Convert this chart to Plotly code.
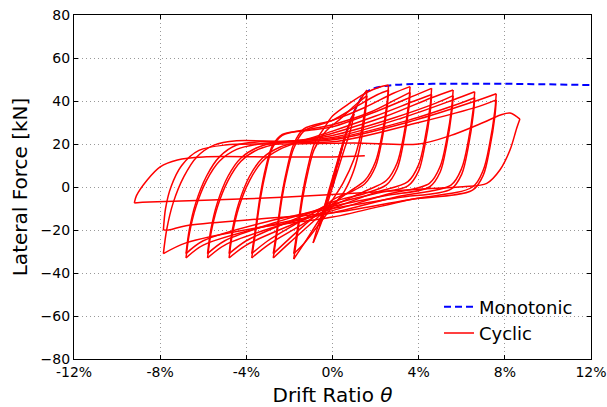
import plotly.graph_objects as go

# ---------------- data ----------------
mono_drift = [0.0, 0.35, 0.8, 1.2, 1.5, 1.9, 2.4, 3.0, 5.0, 8.0, 12.0]
mono_force = [0.0, 15.0, 30.0, 39.0, 43.5, 45.8, 46.9, 47.6, 48.0, 48.0, 47.4]

cyc_drift = [
    0.0, 0.3, 0.6,
    0.45, 0.2, -0.1, -0.4, -0.6,
    -0.45, -0.15, 0.2, 0.6, 1.0,
    0.85, 0.5, 0.0, -0.5, -0.9,
    -0.7, -0.4, -0.05, 0.35, 0.8, 1.2, 1.6,
    1.52, 1.3, 1.0, 0.5, 0.0, -0.6, -1.3, -1.8,
    -1.62, -1.39, -1.15, -0.85, -0.3, 0.4, 1.1, 1.6,
    1.52, 1.3, 1.0, 0.55, 0.0, -0.6, -1.3, -1.8,
    -1.62, -1.39, -1.15, -0.85, -0.35, 0.0, 0.8, 1.6, 2.2, 2.6,
    2.54, 2.3, 2.0, 1.5, 0.8, 0.0, -1.0, -2.0, -2.75,
    -2.57, -2.34, -2.1, -1.8, -1.33, 0.0, 1.2, 2.1, 2.6,
    2.54, 2.3, 2.0, 1.5, 0.8, 0.0, -1.0, -2.0, -2.75,
    -2.57, -2.34, -2.1, -1.8, -1.33, 0.0, 1.5, 2.8, 3.6,
    3.54, 3.3, 3.0, 2.5, 1.5, 0.0, -1.5, -3.0, -3.75,
    -3.57, -3.34, -3.1, -2.8, -2.33, -1.0, 0.0, 1.8, 3.0, 3.6,
    3.54, 3.3, 3.0, 2.5, 1.5, 0.0, -1.5, -3.0, -3.75,
    -3.57, -3.34, -3.1, -2.8, -2.33, -1.0, 0.0, 2.0, 3.8, 4.6,
    4.54, 4.3, 4.0, 3.5, 2.0, 0.0, -2.0, -4.0, -4.8,
    -4.65, -4.35, -3.85, -3.25, -2.45, -1.4, 0.0, 2.0, 3.8, 4.6,
    4.54, 4.3, 4.0, 3.5, 2.0, 0.0, -2.0, -4.0, -4.8,
    -4.65, -4.35, -3.85, -3.25, -2.45, -1.4, 0.0, 2.5, 4.6, 5.6,
    5.54, 5.3, 5.0, 4.5, 2.5, 0.0, -2.5, -5.0, -5.8,
    -5.65, -5.35, -4.85, -4.25, -3.45, -2.4, 0.0, 2.8, 4.8, 5.6,
    5.54, 5.3, 5.0, 4.5, 2.5, 0.0, -2.5, -5.0, -5.8,
    -5.65, -5.35, -4.85, -4.25, -3.45, -2.4, 0.0, 3.2, 5.6, 6.6,
    6.54, 6.3, 6.0, 5.5, 3.0, 0.0, -3.0, -6.0, -6.8,
    -6.65, -6.35, -5.85, -5.25, -4.45, -3.4, 0.0, 3.5, 5.8, 6.6,
    6.54, 6.3, 6.0, 5.5, 3.0, 0.0, -3.0, -6.0, -6.8,
    -6.65, -6.35, -5.85, -5.25, -4.45, -3.4, 0.0, 3.8, 6.5, 7.6,
    7.54, 7.3, 7.0, 6.5, 3.5, 0.0, -3.5, -6.8, -7.85,
    -7.7, -7.4, -6.9, -6.3, -5.5, -4.45, 0.0, 4.0, 6.8, 7.6,
    7.54, 7.3, 7.0, 6.5, 3.5, 0.0, -3.5, -6.8, -7.6, -7.85,
    -7.75, -7.5, -7.0, -6.2, -5.0, -2.0, 1.0, 4.0, 5.5, 7.0, 7.8, 8.24, 8.7,
    8.55, 8.24, 7.77, 7.16, 6.06, 4.0, 0.0, -4.0, -8.5, -9.2,
    -9.1, -8.6, -8.0, -7.2, -6.0, -3.0, 0.0, 1.5,
]
cyc_force = [
    0.0, 14.0, 24.0,
    18.0, 9.0, -1.0, -12.0, -18.0,
    -12.0, -1.0, 11.0, 24.0, 34.0,
    27.0, 16.0, 0.0, -16.0, -26.0,
    -19.0, -10.0, 1.0, 15.0, 30.0, 39.0, 45.1,
    37.0, 24.0, 13.0, 2.0, -6.0, -15.0, -26.0, -33.5,
    -21.5, -5.5, 6.5, 17.5, 26.0, 32.0, 38.5, 42.5,
    34.0, 20.0, 8.0, -2.0, -9.0, -17.0, -26.0, -31.0,
    -19.0, -3.0, 9.0, 20.0, 28.0, 33.0, 39.0, 44.0, 46.5, 47.4,
    39.8, 24.4, 11.9, 3.0, -2.0, -8.0, -17.0, -26.0, -33.0,
    -21.0, -5.0, 7.0, 18.0, 26.0, 31.0, 38.0, 43.0, 45.0,
    37.4, 22.0, 9.5, 1.5, -2.5, -6.0, -15.0, -24.0, -31.0,
    -19.0, -3.0, 9.0, 20.0, 27.0, 31.0, 37.0, 43.5, 46.7,
    39.1, 23.7, 11.2, 3.0, -2.0, -9.0, -18.0, -27.0, -33.0,
    -21.0, -5.0, 7.0, 18.0, 24.0, 27.0, 29.0, 35.0, 41.0, 44.0,
    36.4, 21.0, 8.5, 1.0, -3.0, -7.0, -16.0, -25.0, -31.0,
    -19.0, -3.0, 9.0, 19.0, 24.5, 26.5, 28.0, 35.0, 42.5, 45.9,
    38.3, 22.9, 10.4, 2.5, -2.5, -10.0, -18.0, -27.0, -33.0,
    -22.0, -9.5, 3.0, 12.0, 17.5, 21.5, 26.0, 33.0, 40.0, 43.0,
    35.4, 20.0, 7.5, 0.5, -3.0, -8.0, -16.0, -25.0, -31.0,
    -20.0, -7.5, 5.0, 13.5, 18.5, 21.5, 25.0, 33.0, 41.5, 45.1,
    37.5, 22.1, 9.6, 1.7, -3.5, -11.0, -18.0, -27.0, -33.0,
    -22.0, -9.5, 3.0, 12.0, 17.5, 20.5, 24.0, 32.0, 39.0, 42.5,
    35.0, 19.5, 7.0, 0.0, -4.0, -9.0, -16.0, -25.0, -31.0,
    -20.0, -7.5, 5.0, 13.5, 18.5, 21.0, 23.0, 32.0, 40.5, 44.3,
    36.7, 21.3, 8.8, 0.9, -4.5, -12.0, -18.0, -27.0, -33.0,
    -22.0, -9.5, 3.0, 12.0, 17.5, 20.0, 22.5, 31.0, 38.5, 41.5,
    34.0, 18.5, 6.0, -1.0, -5.0, -10.0, -16.0, -25.0, -31.0,
    -20.0, -7.5, 5.0, 14.0, 19.5, 21.0, 22.0, 31.0, 39.5, 43.4,
    35.8, 20.4, 7.9, 0.0, -6.0, -14.0, -19.0, -26.0, -31.0,
    -20.0, -7.5, 4.8, 14.0, 19.5, 21.5, 21.0, 30.0, 37.5, 40.5,
    33.0, 18.0, 5.5, -1.5, -6.0, -12.0, -15.0, -18.0, -20.0, -20.0,
    -10.0, 0.0, 10.0, 17.0, 19.5, 20.0, 20.5, 20.0, 24.0, 30.0, 33.5, 34.4, 31.6,
    27.3, 17.2, 7.9, 1.7, 0.1, -1.0, -3.5, -5.5, -7.0, -7.4,
    -4.0, 3.3, 9.4, 12.6, 14.0, 14.0, 14.0, 14.5,
]

x_ticks = [-12, -8, -4, 0, 4, 8, 12]
x_ticktext = ["-12%", "-8%", "-4%", "0%", "4%", "8%", "12%"]
y_ticks = [-80, -60, -40, -20, 0, 20, 40, 60, 80]

# ---------------- split the cyclic path at each reversal ----------------
segments = []
start = 0
for i in range(1, len(cyc_drift) - 1):
    d1 = cyc_drift[i] - cyc_drift[i - 1]
    d2 = cyc_drift[i + 1] - cyc_drift[i]
    if d1 * d2 < 0:
        segments.append((start, i))
        start = i
segments.append((start, len(cyc_drift) - 1))

fig = go.Figure()
# monotonic first so that it sits beneath the cyclic curve
fig.add_trace(go.Scatter(
    x=mono_drift, y=mono_force, mode="lines", name="Monotonic",
    line=dict(color="#0000ff", width=2, dash="7px,4px", shape="spline"),
))
for k, (a, b) in enumerate(segments):
    fig.add_trace(go.Scatter(
        x=cyc_drift[a:b + 1], y=cyc_force[a:b + 1], mode="lines",
        line=dict(color="#ff0000", width=1.5, shape="spline", smoothing=0.9),
        name="Cyclic", legendgroup="cyc", showlegend=(k == 0),
    ))

font = "DejaVu Sans, Arial, sans-serif"
axis_common = dict(
    showline=True, linecolor="#000000", linewidth=1.2, mirror="ticks",
    ticks="inside", ticklen=4, tickcolor="#000000",
    showgrid=True, gridcolor="#999999", griddash="1px,3px", gridwidth=1.2,
    zeroline=False, automargin=False,
    tickfont=dict(family=font, size=14, color="#000000"),
)
fig.update_layout(
    width=607, height=407,
    margin=dict(l=74, r=16, t=15, b=48),
    paper_bgcolor="#ffffff", plot_bgcolor="#ffffff",
    font=dict(family=font, color="#000000"),
    xaxis=dict(range=[-12, 12], tickvals=x_ticks, ticktext=x_ticktext,
               title=dict(text="Drift Ratio <i>θ</i>", font=dict(size=20), standoff=15),
               **axis_common),
    yaxis=dict(range=[-80, 80], tickvals=y_ticks,
               title=dict(text="Lateral Force [kN]", font=dict(size=20), standoff=7),
               **axis_common),
    legend=dict(x=0.706, y=0.205, xanchor="left", yanchor="top",
                bgcolor="rgba(255,255,255,0)", borderwidth=0,
                font=dict(family=font, size=18, color="#000000"),
                itemwidth=30, tracegroupgap=0),
    showlegend=True,
)

fig.write_html("out.html")
